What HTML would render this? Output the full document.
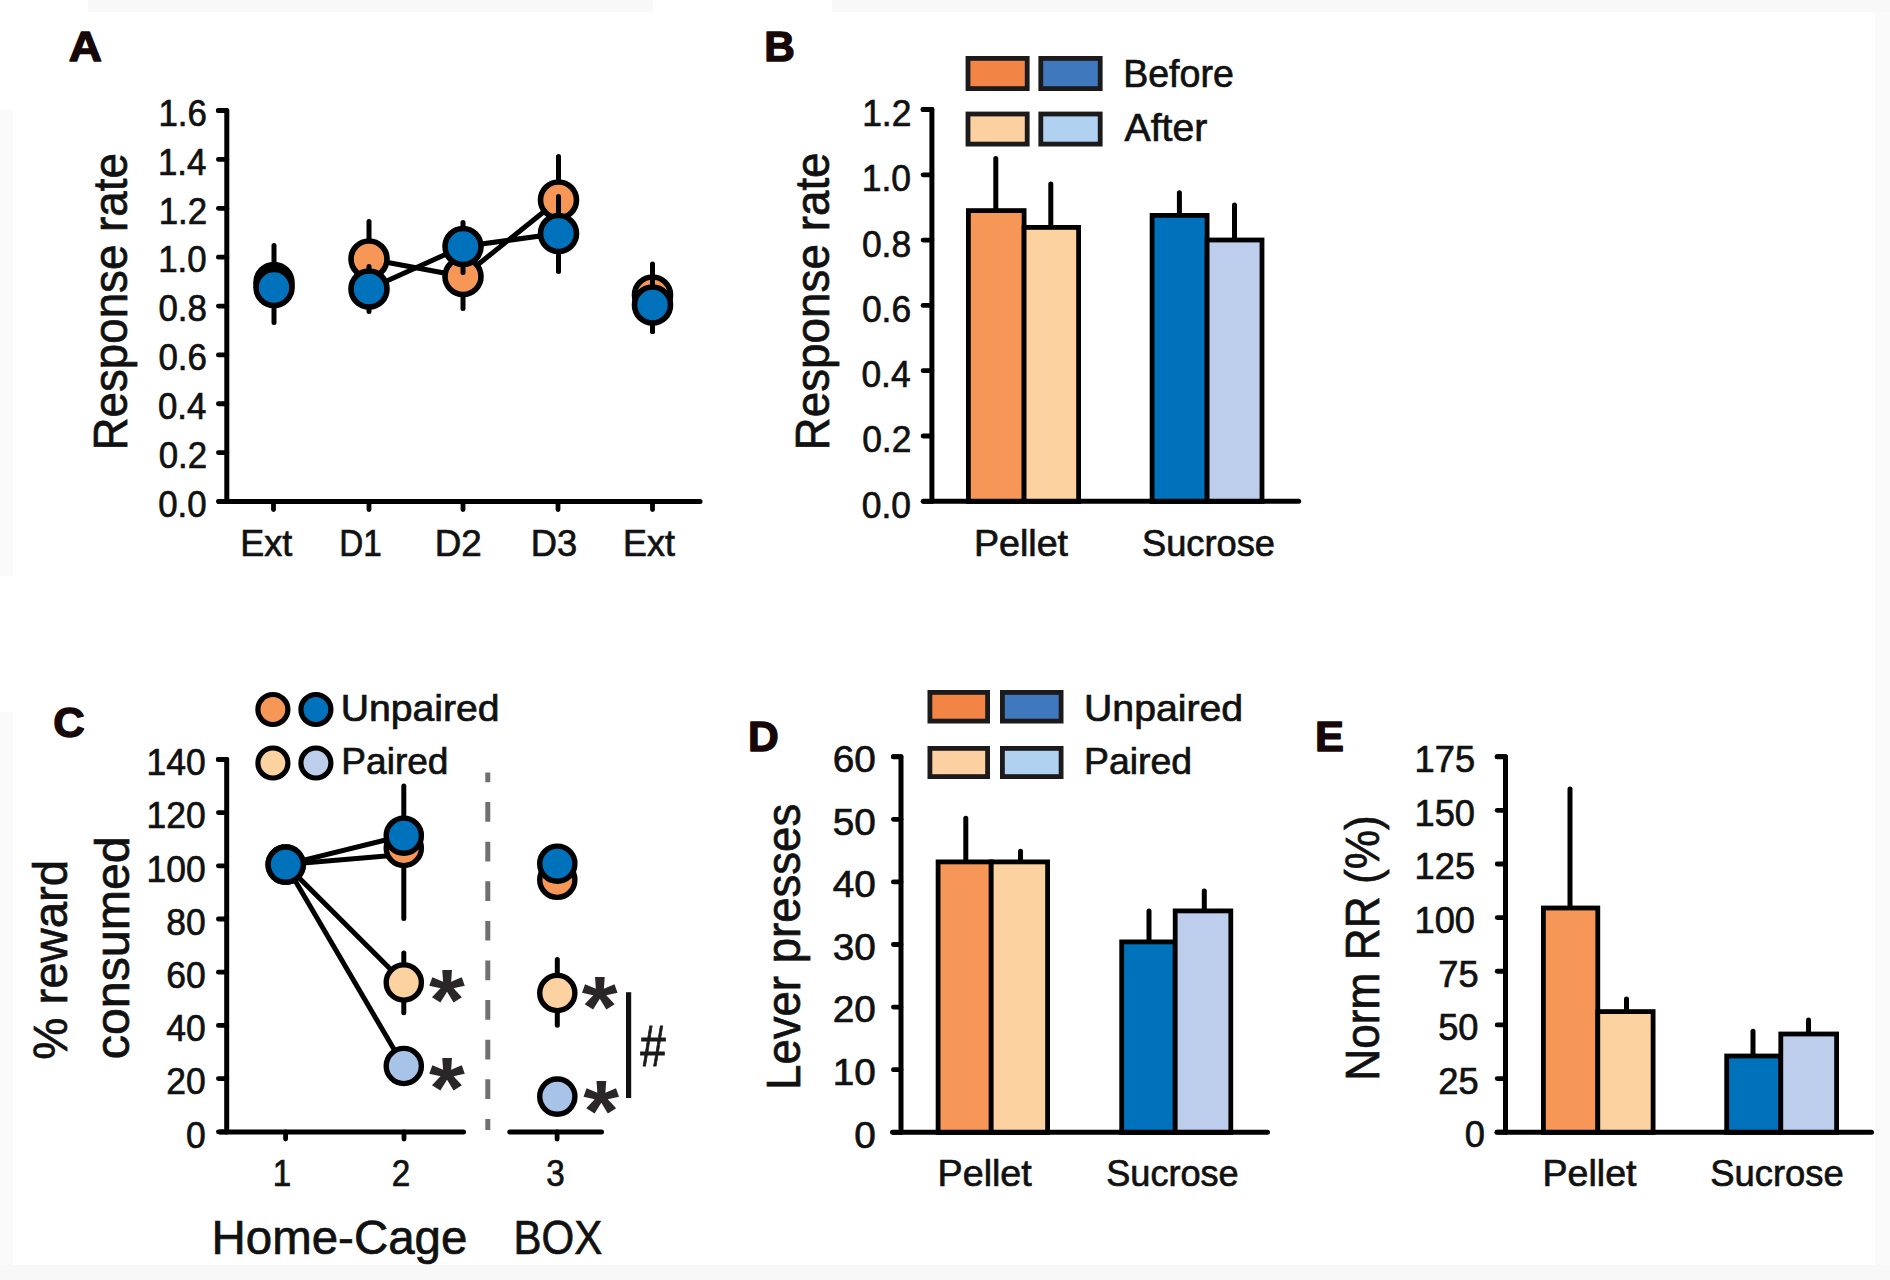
<!DOCTYPE html>
<html><head><meta charset="utf-8"><title>Figure</title>
<style>
html,body{margin:0;padding:0;background:#fff;}
svg{display:block;font-family:"Liberation Sans",sans-serif;}
</style></head>
<body>
<svg width="1890" height="1280" viewBox="0 0 1890 1280">
<rect width="1890" height="1280" fill="#fff"/>
<rect x="88" y="0" width="565" height="12" fill="#f8f8f8"/>
<rect x="832" y="0" width="1058" height="12" fill="#f8f8f8"/>
<rect x="0" y="110" width="13" height="466" fill="#fafafa"/>
<rect x="0" y="712" width="13" height="568" fill="#fafafa"/>
<rect x="1875" y="12" width="15" height="1268" fill="#fafafa"/>
<rect x="0" y="1265" width="1890" height="15" fill="#f8f8f8"/>
<text transform="translate(68.8,61.3) scale(1.0616,1)" font-size="43.31" fill="#160808" stroke="#160808" stroke-width="1.4" font-weight="bold" stroke-linejoin="round">A</text>
<text transform="translate(764.3,61.3) scale(0.9920,1)" font-size="42.73" fill="#160808" stroke="#160808" stroke-width="1.4" font-weight="bold" stroke-linejoin="round">B</text>
<text transform="translate(53.31,736.8) scale(1.0303,1)" font-size="42.3" fill="#160808" stroke="#160808" stroke-width="1.4" font-weight="bold" stroke-linejoin="round">C</text>
<text transform="translate(747.89,751.1) scale(0.9969,1)" font-size="42.73" fill="#160808" stroke="#160808" stroke-width="1.4" font-weight="bold" stroke-linejoin="round">D</text>
<text transform="translate(1315.03,751.1) scale(1.0160,1)" font-size="42.73" fill="#160808" stroke="#160808" stroke-width="1.4" font-weight="bold" stroke-linejoin="round">E</text>
<path d="M218.4,110.6 L226.8,110.6 L226.8,501.5" fill="none" stroke="#000" stroke-width="5" stroke-linejoin="round" stroke-linecap="round"/>
<line x1="218.4" y1="110.6" x2="226.8" y2="110.6" stroke="#000" stroke-width="4.8" stroke-linecap="round"/>
<text transform="translate(158.4,125.85) scale(0.9367,1)" font-size="37.21" fill="#111" stroke="#111" stroke-width="0.7">1.6</text>
<line x1="218.4" y1="159.46" x2="226.8" y2="159.46" stroke="#000" stroke-width="4.8" stroke-linecap="round"/>
<text transform="translate(157.91,174.71) scale(0.9367,1)" font-size="37.21" fill="#111" stroke="#111" stroke-width="0.7">1.4</text>
<line x1="218.4" y1="208.32" x2="226.8" y2="208.32" stroke="#000" stroke-width="4.8" stroke-linecap="round"/>
<text transform="translate(158.65,223.57) scale(0.9367,1)" font-size="37.21" fill="#111" stroke="#111" stroke-width="0.7">1.2</text>
<line x1="218.4" y1="257.18" x2="226.8" y2="257.18" stroke="#000" stroke-width="4.8" stroke-linecap="round"/>
<text transform="translate(158.23,272.43) scale(0.9367,1)" font-size="37.21" fill="#111" stroke="#111" stroke-width="0.7">1.0</text>
<line x1="218.4" y1="306.04" x2="226.8" y2="306.04" stroke="#000" stroke-width="4.8" stroke-linecap="round"/>
<text transform="translate(158.4,321.29) scale(0.9367,1)" font-size="37.21" fill="#111" stroke="#111" stroke-width="0.7">0.8</text>
<line x1="218.4" y1="354.9" x2="226.8" y2="354.9" stroke="#000" stroke-width="4.8" stroke-linecap="round"/>
<text transform="translate(158.4,370.15) scale(0.9367,1)" font-size="37.21" fill="#111" stroke="#111" stroke-width="0.7">0.6</text>
<line x1="218.4" y1="403.76" x2="226.8" y2="403.76" stroke="#000" stroke-width="4.8" stroke-linecap="round"/>
<text transform="translate(157.91,419.01) scale(0.9367,1)" font-size="37.21" fill="#111" stroke="#111" stroke-width="0.7">0.4</text>
<line x1="218.4" y1="452.62" x2="226.8" y2="452.62" stroke="#000" stroke-width="4.8" stroke-linecap="round"/>
<text transform="translate(158.65,467.87) scale(0.9367,1)" font-size="37.21" fill="#111" stroke="#111" stroke-width="0.7">0.2</text>
<line x1="218.4" y1="501.48" x2="226.8" y2="501.48" stroke="#000" stroke-width="4.8" stroke-linecap="round"/>
<text transform="translate(158.23,516.73) scale(0.9367,1)" font-size="37.21" fill="#111" stroke="#111" stroke-width="0.7">0.0</text>
<line x1="219.2" y1="501.5" x2="700" y2="501.5" stroke="#000" stroke-width="5" stroke-linecap="round"/>
<line x1="273.5" y1="501.5" x2="273.5" y2="509.6" stroke="#000" stroke-width="4.8" stroke-linecap="round"/>
<line x1="369" y1="501.5" x2="369" y2="509.6" stroke="#000" stroke-width="4.8" stroke-linecap="round"/>
<line x1="463" y1="501.5" x2="463" y2="509.6" stroke="#000" stroke-width="4.8" stroke-linecap="round"/>
<line x1="558" y1="501.5" x2="558" y2="509.6" stroke="#000" stroke-width="4.8" stroke-linecap="round"/>
<line x1="652.5" y1="501.5" x2="652.5" y2="509.6" stroke="#000" stroke-width="4.8" stroke-linecap="round"/>
<text transform="translate(240.3,555.55) scale(0.9672,1)" font-size="37.21" fill="#111" stroke="#111" stroke-width="0.7">Ext</text>
<text transform="translate(339.32,555.55) scale(0.8943,1)" font-size="37.21" fill="#111" stroke="#111" stroke-width="0.7">D1</text>
<text transform="translate(434.63,555.55) scale(0.9896,1)" font-size="37.21" fill="#111" stroke="#111" stroke-width="0.7">D2</text>
<text transform="translate(530.77,555.55) scale(0.9766,1)" font-size="37.21" fill="#111" stroke="#111" stroke-width="0.7">D3</text>
<text transform="translate(623.01,555.55) scale(0.9652,1)" font-size="37.21" fill="#111" stroke="#111" stroke-width="0.7">Ext</text>
<text transform="translate(127.05,450.4) rotate(-90) scale(0.9590,1)" font-size="47.67" fill="#111" stroke="#111" stroke-width="0.7">Response rate</text>
<line x1="274" y1="245.5" x2="274" y2="322.5" stroke="#000" stroke-width="5" stroke-linecap="round"/>
<line x1="369" y1="221.5" x2="369" y2="297.5" stroke="#000" stroke-width="5" stroke-linecap="round"/>
<line x1="463" y1="244.5" x2="463" y2="308.5" stroke="#000" stroke-width="5" stroke-linecap="round"/>
<line x1="558.5" y1="156.5" x2="558.5" y2="243.5" stroke="#000" stroke-width="5" stroke-linecap="round"/>
<line x1="652.5" y1="264" x2="652.5" y2="331.5" stroke="#000" stroke-width="5" stroke-linecap="round"/>
<polyline points="369,259 463,276.5 558.5,200" fill="none" stroke="#000" stroke-width="5"/>
<polyline points="369,289 463,246.5 558.5,233.5" fill="none" stroke="#000" stroke-width="5"/>
<circle cx="274" cy="282.5" r="18" fill="#000" stroke="#000" stroke-width="5.6"/>
<circle cx="369" cy="259" r="18" fill="#F79757" stroke="#000" stroke-width="5.6"/>
<circle cx="463" cy="276.5" r="18" fill="#F79757" stroke="#000" stroke-width="5.6"/>
<circle cx="558.5" cy="200" r="18" fill="#F79757" stroke="#000" stroke-width="5.6"/>
<circle cx="652.5" cy="295" r="18" fill="#F79757" stroke="#000" stroke-width="5.6"/>
<line x1="369" y1="266.5" x2="369" y2="311.5" stroke="#000" stroke-width="5" stroke-linecap="round"/>
<line x1="463" y1="222.5" x2="463" y2="272.5" stroke="#000" stroke-width="5" stroke-linecap="round"/>
<line x1="558.5" y1="196.5" x2="558.5" y2="271.5" stroke="#000" stroke-width="5" stroke-linecap="round"/>
<line x1="652.5" y1="277.5" x2="652.5" y2="331.5" stroke="#000" stroke-width="5" stroke-linecap="round"/>
<circle cx="274" cy="287.5" r="18" fill="#0072BC" stroke="#000" stroke-width="5.6"/>
<circle cx="369" cy="289" r="18" fill="#0072BC" stroke="#000" stroke-width="5.6"/>
<circle cx="463" cy="246.5" r="18" fill="#0072BC" stroke="#000" stroke-width="5.6"/>
<circle cx="558.5" cy="233.5" r="18" fill="#0072BC" stroke="#000" stroke-width="5.6"/>
<circle cx="652.5" cy="305" r="18" fill="#0072BC" stroke="#000" stroke-width="5.6"/>
<path d="M923.1,109.5 L931.9,109.5 L931.9,501.3" fill="none" stroke="#000" stroke-width="5" stroke-linejoin="round" stroke-linecap="round"/>
<line x1="923.1" y1="109.5" x2="931.9" y2="109.5" stroke="#000" stroke-width="4.8" stroke-linecap="round"/>
<text transform="translate(862.16,125.95) scale(0.9525,1)" font-size="37.21" fill="#111" stroke="#111" stroke-width="0.7">1.2</text>
<line x1="923.1" y1="174.8" x2="931.9" y2="174.8" stroke="#000" stroke-width="4.8" stroke-linecap="round"/>
<text transform="translate(861.73,191.25) scale(0.9525,1)" font-size="37.21" fill="#111" stroke="#111" stroke-width="0.7">1.0</text>
<line x1="923.1" y1="240.1" x2="931.9" y2="240.1" stroke="#000" stroke-width="4.8" stroke-linecap="round"/>
<text transform="translate(861.91,256.55) scale(0.9525,1)" font-size="37.21" fill="#111" stroke="#111" stroke-width="0.7">0.8</text>
<line x1="923.1" y1="305.4" x2="931.9" y2="305.4" stroke="#000" stroke-width="4.8" stroke-linecap="round"/>
<text transform="translate(861.91,321.85) scale(0.9525,1)" font-size="37.21" fill="#111" stroke="#111" stroke-width="0.7">0.6</text>
<line x1="923.1" y1="370.7" x2="931.9" y2="370.7" stroke="#000" stroke-width="4.8" stroke-linecap="round"/>
<text transform="translate(861.41,387.15) scale(0.9525,1)" font-size="37.21" fill="#111" stroke="#111" stroke-width="0.7">0.4</text>
<line x1="923.1" y1="436" x2="931.9" y2="436" stroke="#000" stroke-width="4.8" stroke-linecap="round"/>
<text transform="translate(862.16,452.45) scale(0.9525,1)" font-size="37.21" fill="#111" stroke="#111" stroke-width="0.7">0.2</text>
<line x1="923.1" y1="501.3" x2="931.9" y2="501.3" stroke="#000" stroke-width="4.8" stroke-linecap="round"/>
<text transform="translate(861.73,517.75) scale(0.9525,1)" font-size="37.21" fill="#111" stroke="#111" stroke-width="0.7">0.0</text>
<line x1="995.8" y1="158.5" x2="995.8" y2="209.7" stroke="#000" stroke-width="5" stroke-linecap="round"/>
<line x1="1050.8" y1="184" x2="1050.8" y2="226.5" stroke="#000" stroke-width="5" stroke-linecap="round"/>
<line x1="1179.4" y1="192.7" x2="1179.4" y2="214.5" stroke="#000" stroke-width="5" stroke-linecap="round"/>
<line x1="1234.5" y1="205" x2="1234.5" y2="239.1" stroke="#000" stroke-width="5" stroke-linecap="round"/>
<rect x="968.4" y="210.6" width="55.7" height="290.9" fill="#F79757" stroke="#000" stroke-width="4.8"/>
<rect x="1024.1" y="227.4" width="54.5" height="274.1" fill="#FDD2A1" stroke="#000" stroke-width="4.8"/>
<rect x="1152.1" y="215.4" width="55" height="286.1" fill="#0072BC" stroke="#000" stroke-width="4.8"/>
<rect x="1207.1" y="240" width="54.9" height="261.5" fill="#BDCDEC" stroke="#000" stroke-width="4.8"/>
<line x1="923.5" y1="501.3" x2="1298.7" y2="501.3" stroke="#000" stroke-width="5" stroke-linecap="round"/>
<rect x="968" y="58.4" width="59.2" height="30.2" fill="#F28446" stroke="#1c1a1a" stroke-width="4.8"/>
<rect x="1040.8" y="58.4" width="59.4" height="30.2" fill="#3F78BD" stroke="#1c1a1a" stroke-width="4.8"/>
<rect x="968" y="114" width="59.2" height="30.1" fill="#FCD0A1" stroke="#1c1a1a" stroke-width="4.8"/>
<rect x="1040.8" y="114" width="59.4" height="30.1" fill="#B0D1F0" stroke="#1c1a1a" stroke-width="4.8"/>
<text transform="translate(1123.17,87.15) scale(0.9899,1)" font-size="37.94" fill="#111" stroke="#111" stroke-width="0.7">Before</text>
<text transform="translate(1124.47,140.95) scale(1.0348,1)" font-size="37.94" fill="#111" stroke="#111" stroke-width="0.7">After</text>
<text transform="translate(973.96,555.55) scale(1.0113,1)" font-size="37.21" fill="#111" stroke="#111" stroke-width="0.7">Pellet</text>
<text transform="translate(1142.02,555.55) scale(0.9747,1)" font-size="37.21" fill="#111" stroke="#111" stroke-width="0.7">Sucrose</text>
<text transform="translate(828.65,450.41) rotate(-90) scale(0.9613,1)" font-size="47.67" fill="#111" stroke="#111" stroke-width="0.7">Response rate</text>
<path d="M218.4,759.4 L226.7,759.4 L226.7,1132" fill="none" stroke="#000" stroke-width="5" stroke-linejoin="round" stroke-linecap="round"/>
<line x1="218.4" y1="759.4" x2="226.7" y2="759.4" stroke="#000" stroke-width="4.8" stroke-linecap="round"/>
<text transform="translate(146.46,775.15) scale(0.9529,1)" font-size="37.21" fill="#111" stroke="#111" stroke-width="0.7">140</text>
<line x1="218.4" y1="812.6" x2="226.7" y2="812.6" stroke="#000" stroke-width="4.8" stroke-linecap="round"/>
<text transform="translate(146.46,828.35) scale(0.9529,1)" font-size="37.21" fill="#111" stroke="#111" stroke-width="0.7">120</text>
<line x1="218.4" y1="865.8" x2="226.7" y2="865.8" stroke="#000" stroke-width="4.8" stroke-linecap="round"/>
<text transform="translate(146.46,881.55) scale(0.9529,1)" font-size="37.21" fill="#111" stroke="#111" stroke-width="0.7">100</text>
<line x1="218.4" y1="919" x2="226.7" y2="919" stroke="#000" stroke-width="4.8" stroke-linecap="round"/>
<text transform="translate(166.17,934.75) scale(0.9529,1)" font-size="37.21" fill="#111" stroke="#111" stroke-width="0.7">80</text>
<line x1="218.4" y1="972.2" x2="226.7" y2="972.2" stroke="#000" stroke-width="4.8" stroke-linecap="round"/>
<text transform="translate(166.17,987.95) scale(0.9529,1)" font-size="37.21" fill="#111" stroke="#111" stroke-width="0.7">60</text>
<line x1="218.4" y1="1025.4" x2="226.7" y2="1025.4" stroke="#000" stroke-width="4.8" stroke-linecap="round"/>
<text transform="translate(166.17,1041.15) scale(0.9529,1)" font-size="37.21" fill="#111" stroke="#111" stroke-width="0.7">40</text>
<line x1="218.4" y1="1078.6" x2="226.7" y2="1078.6" stroke="#000" stroke-width="4.8" stroke-linecap="round"/>
<text transform="translate(166.17,1094.35) scale(0.9529,1)" font-size="37.21" fill="#111" stroke="#111" stroke-width="0.7">20</text>
<line x1="218.4" y1="1131.8" x2="226.7" y2="1131.8" stroke="#000" stroke-width="4.8" stroke-linecap="round"/>
<text transform="translate(185.88,1147.55) scale(0.9529,1)" font-size="37.21" fill="#111" stroke="#111" stroke-width="0.7">0</text>
<line x1="220.3" y1="1132" x2="463.5" y2="1132" stroke="#000" stroke-width="5" stroke-linecap="round"/>
<line x1="509.8" y1="1132" x2="601.5" y2="1132" stroke="#000" stroke-width="5" stroke-linecap="round"/>
<line x1="285.6" y1="1132" x2="285.6" y2="1139.1" stroke="#000" stroke-width="4.8" stroke-linecap="round"/>
<line x1="404" y1="1132" x2="404" y2="1139.1" stroke="#000" stroke-width="4.8" stroke-linecap="round"/>
<line x1="557.1" y1="1132" x2="557.1" y2="1139.1" stroke="#000" stroke-width="4.8" stroke-linecap="round"/>
<text transform="translate(272.78,1185.85) scale(0.9200,1)" font-size="36.19" fill="#111" stroke="#111" stroke-width="0.7">1</text>
<text transform="translate(391.84,1185.85) scale(0.9200,1)" font-size="36.19" fill="#111" stroke="#111" stroke-width="0.7">2</text>
<text transform="translate(546.33,1185.85) scale(0.9200,1)" font-size="36.19" fill="#111" stroke="#111" stroke-width="0.7">3</text>
<text transform="translate(211.56,1254.05) scale(1.0013,1)" font-size="47.38" fill="#111" stroke="#111" stroke-width="0.7">Home-Cage</text>
<text transform="translate(513.61,1254.05) scale(0.8866,1)" font-size="47.38" fill="#111" stroke="#111" stroke-width="0.7">BOX</text>
<text transform="translate(66.95,1059.81) rotate(-90) scale(0.9936,1)" font-size="47.67" fill="#111" stroke="#111" stroke-width="0.7">% reward</text>
<text transform="translate(129.25,1059.18) rotate(-90) scale(1.0134,1)" font-size="47.67" fill="#111" stroke="#111" stroke-width="0.7">consumed</text>
<line x1="487.8" y1="772.5" x2="487.8" y2="1130" stroke="#707070" stroke-width="5" stroke-dasharray="19.7,19.9" stroke-dashoffset="10"/>
<line x1="285.7" y1="864.6" x2="403.8" y2="854.5" stroke="#000" stroke-width="5" stroke-linecap="butt"/>
<line x1="285.7" y1="864.6" x2="403.8" y2="835.5" stroke="#000" stroke-width="5" stroke-linecap="butt"/>
<line x1="285.7" y1="864.6" x2="403.8" y2="982.5" stroke="#000" stroke-width="5" stroke-linecap="butt"/>
<line x1="285.7" y1="864.6" x2="403.8" y2="1066" stroke="#000" stroke-width="5" stroke-linecap="butt"/>
<line x1="403.8" y1="786" x2="403.8" y2="918.5" stroke="#000" stroke-width="5" stroke-linecap="round"/>
<line x1="403.8" y1="953" x2="403.8" y2="1012.7" stroke="#000" stroke-width="5" stroke-linecap="round"/>
<line x1="557.3" y1="959.5" x2="557.3" y2="1025.3" stroke="#000" stroke-width="5" stroke-linecap="round"/>
<circle cx="285.7" cy="864.6" r="17.6" fill="#F79757" stroke="#000" stroke-width="5.4"/>
<circle cx="285.7" cy="864.6" r="17.6" fill="#0072BC" stroke="#000" stroke-width="5.4"/>
<circle cx="403.8" cy="848" r="17.6" fill="#F79757" stroke="#000" stroke-width="5.4"/>
<circle cx="403.8" cy="835.7" r="17.6" fill="#0072BC" stroke="#000" stroke-width="5.4"/>
<circle cx="403.8" cy="982.5" r="17.6" fill="#FDD2A1" stroke="#000" stroke-width="5.4"/>
<circle cx="403.8" cy="1066" r="17.6" fill="#A8C3E8" stroke="#000" stroke-width="5.4"/>
<circle cx="557.3" cy="879.8" r="17.6" fill="#F79757" stroke="#000" stroke-width="5.4"/>
<circle cx="557.3" cy="863.7" r="17.6" fill="#0072BC" stroke="#000" stroke-width="5.4"/>
<circle cx="557.3" cy="993" r="17.6" fill="#FDD2A1" stroke="#000" stroke-width="5.4"/>
<circle cx="557.3" cy="1096.6" r="17.6" fill="#A8C3E8" stroke="#000" stroke-width="5.4"/>
<text transform="translate(447,1030) scale(1.06,1)" font-size="87" text-anchor="middle" font-weight="bold" fill="#2b2728">*</text>
<text transform="translate(447,1117.7) scale(1.06,1)" font-size="87" text-anchor="middle" font-weight="bold" fill="#2b2728">*</text>
<text transform="translate(599.8,1037) scale(1.06,1)" font-size="87" text-anchor="middle" font-weight="bold" fill="#2b2728">*</text>
<text transform="translate(601.2,1140.6) scale(1.06,1)" font-size="87" text-anchor="middle" font-weight="bold" fill="#2b2728">*</text>
<line x1="628.6" y1="992.2" x2="628.6" y2="1098" stroke="#111" stroke-width="5.2" stroke-linecap="butt"/>
<text transform="translate(640.27,1065.75) scale(0.8059,1)" font-size="56.83" fill="#1a1a1a" stroke="#1a1a1a" stroke-width="0.9">#</text>
<circle cx="272.9" cy="709.5" r="15" fill="#F79757" stroke="#000" stroke-width="5.2"/>
<circle cx="315.9" cy="709.5" r="15" fill="#0072BC" stroke="#000" stroke-width="5.2"/>
<circle cx="272.9" cy="763" r="15" fill="#FDD2A1" stroke="#000" stroke-width="5.2"/>
<circle cx="315.9" cy="763" r="15" fill="#BDCDEC" stroke="#000" stroke-width="5.2"/>
<text transform="translate(340.63,720.65) scale(1.0657,1)" font-size="36.77" fill="#111" stroke="#111" stroke-width="0.7">Unpaired</text>
<text transform="translate(341.31,774.05) scale(1.0085,1)" font-size="36.77" fill="#111" stroke="#111" stroke-width="0.7">Paired</text>
<path d="M893.4,756.7 L901,756.7 L901,1132.3" fill="none" stroke="#000" stroke-width="5" stroke-linejoin="round" stroke-linecap="round"/>
<line x1="893.4" y1="756.7" x2="901" y2="756.7" stroke="#000" stroke-width="4.8" stroke-linecap="round"/>
<text transform="translate(832.81,771.95) scale(1.0419,1)" font-size="37.21" fill="#111" stroke="#111" stroke-width="0.7">60</text>
<line x1="893.4" y1="819.3" x2="901" y2="819.3" stroke="#000" stroke-width="4.8" stroke-linecap="round"/>
<text transform="translate(832.81,834.55) scale(1.0419,1)" font-size="37.21" fill="#111" stroke="#111" stroke-width="0.7">50</text>
<line x1="893.4" y1="881.9" x2="901" y2="881.9" stroke="#000" stroke-width="4.8" stroke-linecap="round"/>
<text transform="translate(832.81,897.15) scale(1.0419,1)" font-size="37.21" fill="#111" stroke="#111" stroke-width="0.7">40</text>
<line x1="893.4" y1="944.5" x2="901" y2="944.5" stroke="#000" stroke-width="4.8" stroke-linecap="round"/>
<text transform="translate(832.81,959.75) scale(1.0419,1)" font-size="37.21" fill="#111" stroke="#111" stroke-width="0.7">30</text>
<line x1="893.4" y1="1007.1" x2="901" y2="1007.1" stroke="#000" stroke-width="4.8" stroke-linecap="round"/>
<text transform="translate(832.81,1022.35) scale(1.0419,1)" font-size="37.21" fill="#111" stroke="#111" stroke-width="0.7">20</text>
<line x1="893.4" y1="1069.7" x2="901" y2="1069.7" stroke="#000" stroke-width="4.8" stroke-linecap="round"/>
<text transform="translate(832.81,1084.95) scale(1.0419,1)" font-size="37.21" fill="#111" stroke="#111" stroke-width="0.7">10</text>
<line x1="893.4" y1="1132.3" x2="901" y2="1132.3" stroke="#000" stroke-width="4.8" stroke-linecap="round"/>
<text transform="translate(854.37,1147.55) scale(1.0419,1)" font-size="37.21" fill="#111" stroke="#111" stroke-width="0.7">0</text>
<line x1="965.8" y1="818.2" x2="965.8" y2="861" stroke="#000" stroke-width="5" stroke-linecap="round"/>
<line x1="1020.5" y1="851.2" x2="1020.5" y2="861" stroke="#000" stroke-width="5" stroke-linecap="round"/>
<line x1="1149" y1="911" x2="1149" y2="941" stroke="#000" stroke-width="5" stroke-linecap="round"/>
<line x1="1204.3" y1="891" x2="1204.3" y2="910" stroke="#000" stroke-width="5" stroke-linecap="round"/>
<rect x="938.1" y="861.9" width="53.1" height="270.6" fill="#F79757" stroke="#000" stroke-width="4.8"/>
<rect x="991.2" y="861.9" width="56.4" height="270.6" fill="#FDD2A1" stroke="#000" stroke-width="4.8"/>
<rect x="1121.7" y="941.9" width="53.5" height="190.6" fill="#0072BC" stroke="#000" stroke-width="4.8"/>
<rect x="1175.2" y="910.9" width="55.6" height="221.6" fill="#BDCDEC" stroke="#000" stroke-width="4.8"/>
<line x1="892.5" y1="1132.3" x2="1267.5" y2="1132.3" stroke="#000" stroke-width="5" stroke-linecap="round"/>
<rect x="929.9" y="692.4" width="57.7" height="28.7" fill="#F28446" stroke="#1c1a1a" stroke-width="4.8"/>
<rect x="1002.4" y="692.4" width="58.7" height="28.7" fill="#3F78BD" stroke="#1c1a1a" stroke-width="4.8"/>
<rect x="929.9" y="748.4" width="57.7" height="28.2" fill="#FCD0A1" stroke="#1c1a1a" stroke-width="4.8"/>
<rect x="1002.4" y="748.4" width="58.7" height="28.2" fill="#B0D1F0" stroke="#1c1a1a" stroke-width="4.8"/>
<text transform="translate(1084.03,721.05) scale(1.0539,1)" font-size="37.21" fill="#111" stroke="#111" stroke-width="0.7">Unpaired</text>
<text transform="translate(1083.98,774.45) scale(1.0055,1)" font-size="37.21" fill="#111" stroke="#111" stroke-width="0.7">Paired</text>
<text transform="translate(937.56,1186.45) scale(1.0124,1)" font-size="37.21" fill="#111" stroke="#111" stroke-width="0.7">Pellet</text>
<text transform="translate(1106.22,1186.45) scale(0.9709,1)" font-size="37.21" fill="#111" stroke="#111" stroke-width="0.7">Sucrose</text>
<text transform="translate(800.25,1089.89) rotate(-90) scale(0.9557,1)" font-size="47.67" fill="#111" stroke="#111" stroke-width="0.7">Lever presses</text>
<path d="M1497.2,756.7 L1505.5,756.7 L1505.5,1132.2" fill="none" stroke="#000" stroke-width="5" stroke-linejoin="round" stroke-linecap="round"/>
<line x1="1497.2" y1="756.7" x2="1505.5" y2="756.7" stroke="#000" stroke-width="4.8" stroke-linecap="round"/>
<text transform="translate(1414.59,771.95) scale(0.9755,1)" font-size="37.21" fill="#111" stroke="#111" stroke-width="0.7">175</text>
<line x1="1497.2" y1="810.34" x2="1505.5" y2="810.34" stroke="#000" stroke-width="4.8" stroke-linecap="round"/>
<text transform="translate(1414.48,825.59) scale(0.9755,1)" font-size="37.21" fill="#111" stroke="#111" stroke-width="0.7">150</text>
<line x1="1497.2" y1="863.98" x2="1505.5" y2="863.98" stroke="#000" stroke-width="4.8" stroke-linecap="round"/>
<text transform="translate(1414.59,879.23) scale(0.9755,1)" font-size="37.21" fill="#111" stroke="#111" stroke-width="0.7">125</text>
<line x1="1497.2" y1="917.62" x2="1505.5" y2="917.62" stroke="#000" stroke-width="4.8" stroke-linecap="round"/>
<text transform="translate(1414.48,932.87) scale(0.9755,1)" font-size="37.21" fill="#111" stroke="#111" stroke-width="0.7">100</text>
<line x1="1497.2" y1="971.26" x2="1505.5" y2="971.26" stroke="#000" stroke-width="4.8" stroke-linecap="round"/>
<text transform="translate(1438.27,986.51) scale(0.9755,1)" font-size="37.21" fill="#111" stroke="#111" stroke-width="0.7">75</text>
<line x1="1497.2" y1="1024.9" x2="1505.5" y2="1024.9" stroke="#000" stroke-width="4.8" stroke-linecap="round"/>
<text transform="translate(1438.16,1040.15) scale(0.9755,1)" font-size="37.21" fill="#111" stroke="#111" stroke-width="0.7">50</text>
<line x1="1497.2" y1="1078.54" x2="1505.5" y2="1078.54" stroke="#000" stroke-width="4.8" stroke-linecap="round"/>
<text transform="translate(1438.27,1093.79) scale(0.9755,1)" font-size="37.21" fill="#111" stroke="#111" stroke-width="0.7">25</text>
<line x1="1497.2" y1="1132.18" x2="1505.5" y2="1132.18" stroke="#000" stroke-width="4.8" stroke-linecap="round"/>
<text transform="translate(1464.85,1147.43) scale(0.9755,1)" font-size="37.21" fill="#111" stroke="#111" stroke-width="0.7">0</text>
<line x1="1570" y1="789.1" x2="1570" y2="907.1" stroke="#000" stroke-width="5" stroke-linecap="round"/>
<line x1="1626.5" y1="999.1" x2="1626.5" y2="1010.7" stroke="#000" stroke-width="5" stroke-linecap="round"/>
<line x1="1753" y1="1031.3" x2="1753" y2="1055.1" stroke="#000" stroke-width="5" stroke-linecap="round"/>
<line x1="1808.5" y1="1020.1" x2="1808.5" y2="1033.1" stroke="#000" stroke-width="5" stroke-linecap="round"/>
<rect x="1543.4" y="908" width="54.4" height="224.4" fill="#F79757" stroke="#000" stroke-width="4.8"/>
<rect x="1597.8" y="1011.6" width="55.3" height="120.8" fill="#FDD2A1" stroke="#000" stroke-width="4.8"/>
<rect x="1726.7" y="1056" width="54.1" height="76.4" fill="#0072BC" stroke="#000" stroke-width="4.8"/>
<rect x="1780.8" y="1034" width="55.8" height="98.4" fill="#BDCDEC" stroke="#000" stroke-width="4.8"/>
<line x1="1497" y1="1132.2" x2="1871.5" y2="1132.2" stroke="#000" stroke-width="5" stroke-linecap="round"/>
<text transform="translate(1542.57,1186.45) scale(1.0091,1)" font-size="37.21" fill="#111" stroke="#111" stroke-width="0.7">Pellet</text>
<text transform="translate(1710.21,1186.45) scale(0.9784,1)" font-size="37.21" fill="#111" stroke="#111" stroke-width="0.7">Sucrose</text>
<text transform="translate(1378.65,1080.78) rotate(-90) scale(0.9288,1)" font-size="47.67" fill="#111" stroke="#111" stroke-width="0.7">Norm RR (%)</text>
</svg>
</body></html>
